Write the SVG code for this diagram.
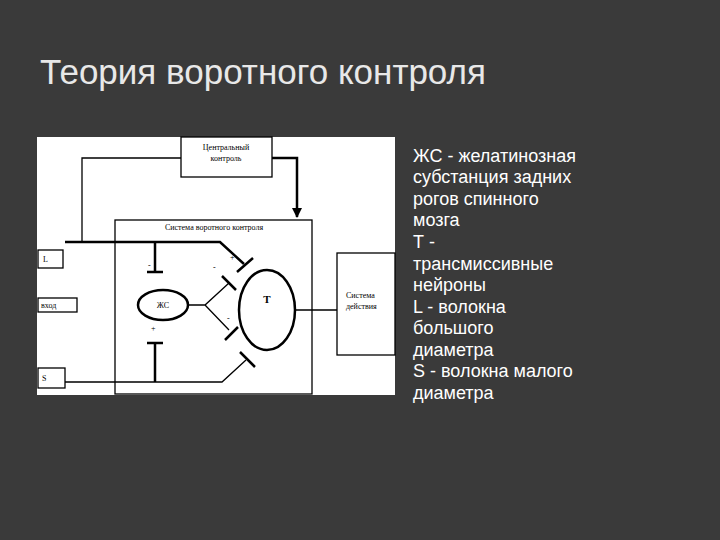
<svg xmlns="http://www.w3.org/2000/svg" width="720" height="540" viewBox="0 0 720 540">
<defs><style>
.l{stroke:#000;fill:none;stroke-width:1.3}
.t{stroke:#000;fill:none;stroke-width:2.5}
.b{fill:#fff;stroke:#000;stroke-width:1.3}
.s{font-family:"Liberation Serif",serif;font-size:8px;fill:#000}
.r{font-family:"Liberation Sans",sans-serif;font-size:18px;fill:#fff}
</style>
<marker id="a" viewBox="0 0 10 10" refX="9" refY="5" markerWidth="4" markerHeight="4" orient="auto"><path d="M0,0L10,5L0,10z" fill="#000"/></marker></defs>
<rect width="720" height="540" fill="#3a3a3a"/>
<text x="40" y="84" font-family="Liberation Sans,sans-serif" font-size="35" fill="#e8e8e8">Теория воротного контроля</text>
<rect x="37" y="137" width="358" height="258" fill="#fff"/>
<g id="connectors">
<path class="l" d="M181,158H82V242"/>
<path class="t" d="M272,158H297V217" marker-end="url(#a)"/>
<path class="t" d="M65,242H220L244,264"/>
<path class="l" d="M65,382H222L246,360"/>
<path class="t" d="M155,242V272M147,272H163"/>
<path class="t" d="M155,382V343M147,343H163"/>
<path class="l" d="M188,305H205L229,283M205,305L229,330M295,310H337"/>
<path class="t" d="M237,272L253,258M222,276L236,290M225,340L238,327M240,352L255,367"/>
</g>
<g id="central"><rect class="b" x="181" y="137" width="91" height="40"/><text class="s" x="226" y="150" text-anchor="middle">Центральный</text><text class="s" x="226" y="161" text-anchor="middle">контроль</text></g>
<g id="gate"><rect class="l" x="115" y="220" width="197" height="174"/><text class="s" x="214" y="230" text-anchor="middle">Система воротного контроля</text></g>
<g id="L"><rect class="b" x="38" y="250" width="25" height="18"/><text class="s" x="43" y="262">L</text></g>
<g id="in"><rect class="b" x="38" y="298" width="39" height="14"/><text class="s" x="41" y="308">вход</text></g>
<g id="S"><rect class="b" x="38" y="368" width="27" height="20"/><text class="s" x="42" y="381">S</text></g>
<g id="zs"><ellipse class="t" cx="163" cy="305" rx="25" ry="15"/><text class="s" x="163" y="308" text-anchor="middle">ЖС</text></g>
<g id="T"><ellipse class="t" cx="267" cy="310" rx="28" ry="40"/><text x="267" y="303" text-anchor="middle" font-family="Liberation Serif,serif" font-weight="bold" font-size="11">T</text></g>
<g id="act"><rect class="b" x="337" y="253" width="58" height="102"/><text class="s" x="346" y="298">Система</text><text class="s" x="346" y="309">действия</text></g>
<g class="s"><text x="148" y="268">-</text><text x="230" y="260">+</text><text x="213" y="270">-</text><text x="227" y="321">-</text><text x="151" y="331">+</text></g>
<g class="r"><text x="413" y="162">ЖС - желатинозная</text><text x="413" y="183">субстанция задних</text><text x="413" y="205">рогов спинного</text><text x="413" y="226">мозга</text><text x="413" y="248">Т -</text><text x="413" y="270">трансмиссивные</text><text x="413" y="291">нейроны</text><text x="413" y="313">L - волокна</text><text x="413" y="334">большого</text><text x="413" y="356">диаметра</text><text x="413" y="377">S - волокна малого</text><text x="413" y="399">диаметра</text></g>
</svg>
